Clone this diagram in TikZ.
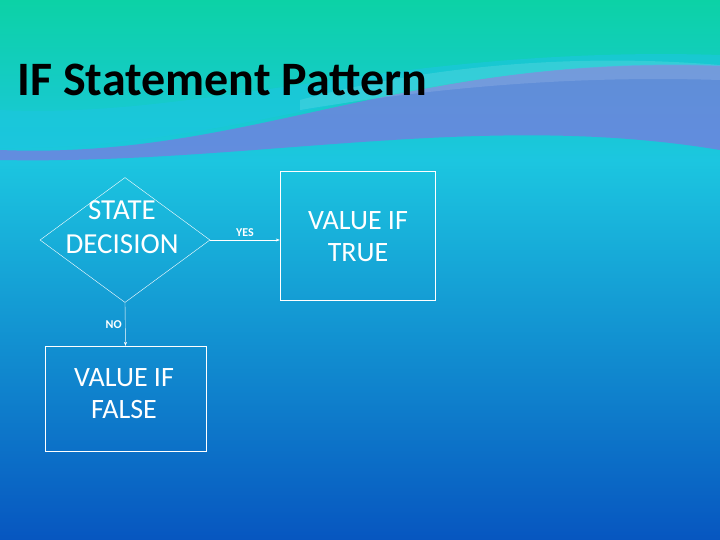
\documentclass[tikz,border=0pt]{standalone}
\usepackage{fontspec}
\setmainfont{Carlito}
\usetikzlibrary{shapes.geometric,arrows.meta}
\definecolor{topgreen}{HTML}{0CD2A6}
\definecolor{midcyan}{HTML}{1CC6E0}
\definecolor{lowblue}{HTML}{0A80E2}
\definecolor{botblue}{HTML}{0756C0}
\definecolor{wavepurple}{HTML}{7A7AE0}
\tikzset{
  box/.style={draw=white,thin,minimum width=155pt,minimum height=129pt,inner sep=0pt},
  decide/.style={diamond,draw=white,thin,minimum width=170pt,minimum height=125pt,inner sep=0pt},
  boxtext/.style={text=white,font=\fontsize{28}{32}\selectfont,align=center},
  edgetext/.style={text=white,font=\fontsize{12}{13}\selectfont\bfseries},
  link/.style={draw=white,thin,-{Stealth[length=4pt]}}
}
\begin{document}
\begin{tikzpicture}[x=1pt,y=-1pt]
\useasboundingbox (0,0) rectangle (720,540);
% background
\shade[top color=topgreen,bottom color=midcyan] (0,0) rectangle (720,160);
\shade[top color=midcyan,middle color=lowblue,bottom color=botblue] (0,160) rectangle (720,540);
% waves
\fill[wavepurple,opacity=0.75] (0,150) .. controls (250,160) and (400,55) .. (720,65)
  -- (720,150) .. controls (480,110) and (250,165) .. (0,160) -- cycle;
\fill[midcyan,opacity=0.6] (0,110) .. controls (200,120) and (400,45) .. (720,55)
  -- (720,66) .. controls (420,55) and (250,150) .. (0,148) -- cycle;
\fill[white,opacity=0.12] (300,100) .. controls (450,60) and (600,55) .. (720,65)
  -- (720,80) .. controls (560,75) and (420,90) .. (300,110) -- cycle;
% title
\node[anchor=west,font=\fontsize{48}{52}\selectfont\bfseries] (title) at (14,80) {IF Statement Pattern};
% flowchart
\node[decide] (dec) at (125,240) {};
\node[boxtext,font=\fontsize{29}{34}\selectfont] (dectext) at (122,227) {STATE\\DECISION};
\node[box] (true) at (357.5,235.5) {};
\node[boxtext] at (358,237) {VALUE IF\\ TRUE};
\node[box,minimum width=161pt,minimum height=105pt] (false) at (125.5,398.5) {};
\node[boxtext] at (124,394) {VALUE IF\\ FALSE};
\draw[link] (dec.east) -- (true.west |- dec.east) node[edgetext,midway,above] {YES};
\draw[link] (dec.south) -- (false.north) node[edgetext,midway,left] {NO};
\end{tikzpicture}
\end{document}
